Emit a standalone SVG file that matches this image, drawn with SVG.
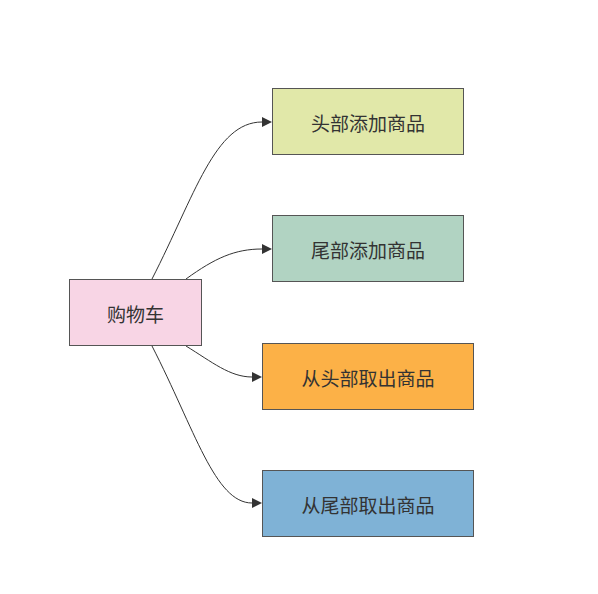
<svg xmlns="http://www.w3.org/2000/svg" width="598" height="594" viewBox="0 0 598 594">
<style>
.box{stroke:#555;stroke-width:1}
.lbl{font-family:"Noto Sans CJK SC","Noto Sans",sans-serif;font-size:19px;fill:#333;text-anchor:middle;dominant-baseline:central}
.edge{fill:none;stroke:#333;stroke-width:1}
</style>
<defs>
<marker id="arr" markerWidth="10" markerHeight="10" refX="0" refY="5" orient="auto" markerUnits="userSpaceOnUse">
<path d="M0,0 L10,5 L0,10 Z" fill="#333"/>
</marker>
</defs>
<rect width="598" height="594" fill="#fff"/>
<g id="edges">
<path class="edge" d="M152,279 C195,195 215,122 262,122" marker-end="url(#arr)"/>
<path class="edge" d="M186,279 C215,258 235,249 262,249" marker-end="url(#arr)"/>
<path class="edge" d="M186,346 C212,362 230,377 252,377" marker-end="url(#arr)"/>
<path class="edge" d="M152,346 C195,430 215,503 252,503" marker-end="url(#arr)"/>
</g>
<g id="cart">
<rect class="box" x="69.5" y="279.5" width="132" height="66" fill="#f8d5e5"/>
<text class="lbl" x="135.5" y="313">购物车</text>
</g>
<g id="n1">
<rect class="box" x="272.5" y="88.5" width="191" height="66" fill="#e1e8a9"/>
<text class="lbl" x="368" y="122.5">头部添加商品</text>
</g>
<g id="n2">
<rect class="box" x="272.5" y="215.5" width="191" height="66" fill="#b1d3c2"/>
<text class="lbl" x="368" y="249.5">尾部添加商品</text>
</g>
<g id="n3">
<rect class="box" x="262.5" y="343.5" width="211" height="66" fill="#fcb147"/>
<text class="lbl" x="368" y="377.5">从头部取出商品</text>
</g>
<g id="n4">
<rect class="box" x="262.5" y="470.5" width="211" height="66" fill="#7fb2d6"/>
<text class="lbl" x="368" y="504.5">从尾部取出商品</text>
</g>
</svg>
